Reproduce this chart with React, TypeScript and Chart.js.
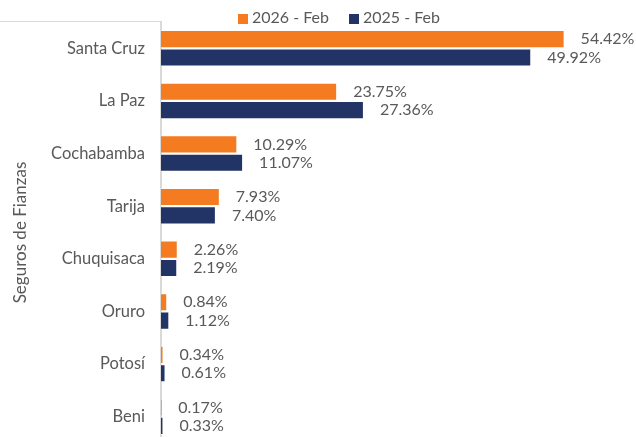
import React, { useEffect, useRef } from "react";
import { Chart, registerables } from "chart.js";

Chart.register(...registerables);

const categories = ["Santa Cruz", "La Paz", "Cochabamba", "Tarija", "Chuquisaca", "Oruro", "Potosí", "Beni"];
const series2026 = [54.42, 23.75, 10.29, 7.93, 2.26, 0.84, 0.34, 0.17];
const series2025 = [49.92, 27.36, 11.07, 7.4, 2.19, 1.12, 0.61, 0.33];
const seriesNames = ["2026 - Feb", "2025 - Feb"];
const axisTitle = "Seguros de Fianzas";

const ORANGE = "#F47B20";
const NAVY = "#223366";
const TEXT = "#595959";
const FONT = "Lato";

export default function App() {
  const ref = useRef<HTMLCanvasElement | null>(null);

  useEffect(() => {
    document.body.style.margin = "0";
    const canvas = ref.current;
    if (!canvas) return;

    const labelPlugin = {
      id: "valueLabels",
      afterDatasetsDraw(chart: any) {
        const ctx = chart.ctx;
        ctx.save();
        ctx.font = `16px ${FONT}`;
        ctx.fillStyle = TEXT;
        ctx.textAlign = "left";
        ctx.textBaseline = "middle";
        chart.data.datasets.forEach((ds: any, di: number) => {
          const meta = chart.getDatasetMeta(di);
          meta.data.forEach((el: any, i: number) => {
            const v = ds.data[i] as number;
            ctx.fillText(v.toFixed(2) + "%", el.x + 16, el.y);
          });
        });
        ctx.restore();
      },
    };

    const framePlugin = {
      id: "frameAndLegend",
      afterDraw(chart: any) {
        const ctx = chart.ctx;
        const area = chart.chartArea;
        ctx.save();
        ctx.strokeStyle = "#d9d9d9";
        ctx.lineWidth = 1;
        ctx.beginPath();
        ctx.moveTo(0, area.top - 0.5);
        ctx.lineTo(area.left, area.top - 0.5);
        ctx.stroke();

        ctx.font = `16px ${FONT}`;
        ctx.textBaseline = "middle";
        ctx.textAlign = "left";
        let x = 238;
        const y = 18;
        chart.data.datasets.forEach((ds: any) => {
          ctx.fillStyle = ds.backgroundColor;
          ctx.fillRect(x, y - 4, 10, 10);
          ctx.fillStyle = TEXT;
          ctx.fillText(ds.label, x + 14, y);
          x += 14 + ctx.measureText(ds.label).width + 20;
        });
        ctx.restore();
      },
    };

    const chart = new Chart(canvas, {
      type: "bar",
      data: {
        labels: categories,
        datasets: [
          {
            label: seriesNames[0],
            data: series2026,
            backgroundColor: ORANGE,
            borderColor: "rgba(255,255,255,0.7)",
            borderWidth: 1,
            categoryPercentage: 0.7,
            barPercentage: 0.98,
          },
          {
            label: seriesNames[1],
            data: series2025,
            backgroundColor: NAVY,
            borderColor: "rgba(255,255,255,0.7)",
            borderWidth: 1,
            categoryPercentage: 0.7,
            barPercentage: 0.98,
          },
        ],
      },
      options: {
        indexAxis: "y",
        responsive: false,
        animation: false,
        devicePixelRatio: 1,
        layout: { padding: { top: 22, left: 8, right: 30, bottom: 0 } },
        plugins: {
          legend: { display: false },
          tooltip: { enabled: false },
        },
        scales: {
          x: { display: false, min: 0, max: 60 },
          y: {
            afterFit: (scale: any) => {
              scale.width = 153;
              scale.paddingTop = 0;
              scale.paddingBottom = 0;
            },
            grid: { display: false, drawTicks: false },
            border: { display: true, color: "#d9d9d9", width: 2 },
            ticks: {
              padding: 16,
              color: TEXT,
              font: { family: FONT, size: 16.5 },
            },
            title: {
              display: true,
              text: axisTitle,
              color: TEXT,
              font: { family: FONT, size: 17 },
              padding: { top: 2, bottom: 4 },
            },
          },
        },
      },
      plugins: [labelPlugin, framePlugin],
    });

    return () => chart.destroy();
  }, []);

  return (
    <div style={{ position: "fixed", left: 0, top: 0, width: 636, height: 443 }}>
      <canvas ref={ref} width={636} height={443} />
    </div>
  );
}
